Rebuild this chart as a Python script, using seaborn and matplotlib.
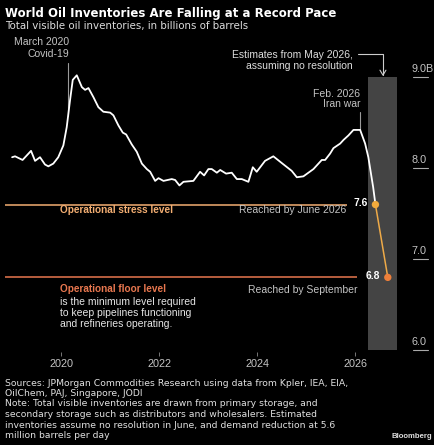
import pandas as pd
import numpy as np
import matplotlib.pyplot as plt
import matplotlib.dates as mdates
import seaborn as sns

# ── 1. Data ────────────────────────────────────────────────
hist_dates = [
    "2019-01-01", "2019-01-23", "2019-03-20", "2019-05-22", "2019-06-21",
    "2019-07-28", "2019-09-03", "2019-09-28", "2019-11-04", "2019-12-11",
    "2020-01-18", "2020-02-12", "2020-03-08", "2020-03-28", "2020-04-27",
    "2020-06-04", "2020-06-28", "2020-07-23", "2020-08-29", "2020-10-05",
    "2020-11-11", "2021-01-01", "2021-01-25", "2021-03-03", "2021-04-05",
    "2021-04-30", "2021-06-11", "2021-07-18", "2021-08-25", "2021-10-01",
    "2021-10-26", "2021-12-02", "2021-12-27", "2022-02-02", "2022-04-05",
    "2022-04-30", "2022-06-01", "2022-07-01", "2022-09-13", "2022-11-02",
    "2022-12-02", "2023-01-03", "2023-01-28", "2023-03-07", "2023-04-01",
    "2023-05-15", "2023-06-26", "2023-08-03", "2023-09-09", "2023-10-28",
    "2023-11-30", "2023-12-29", "2024-02-29", "2024-05-01", "2024-07-08",
    "2024-09-15", "2024-10-23", "2024-12-11", "2025-02-24", "2025-04-27",
    "2025-05-22", "2025-06-28", "2025-07-23", "2025-09-11", "2025-10-06",
    "2025-11-12", "2025-12-19", "2026-02-07", "2026-03-16", "2026-04-09",
    "2026-05-15", "2026-06-01",
]
hist_values = [
    8.12, 8.13, 8.09, 8.19, 8.08,
    8.12, 8.04, 8.02, 8.05, 8.12,
    8.25, 8.45, 8.75, 8.97, 9.02,
    8.89, 8.86, 8.88, 8.78, 8.67,
    8.62, 8.61, 8.58, 8.47, 8.39,
    8.37, 8.26, 8.18, 8.05, 7.99,
    7.96, 7.86, 7.89, 7.86, 7.88,
    7.87, 7.81, 7.85, 7.86, 7.96,
    7.92, 7.99, 7.99, 7.95, 7.98,
    7.94, 7.95, 7.88, 7.88, 7.85,
    8.01, 7.96, 8.08, 8.13, 8.05,
    7.97, 7.90, 7.91, 7.99, 8.09,
    8.09, 8.16, 8.22, 8.27, 8.31,
    8.36, 8.42, 8.42, 8.27, 8.12,
    7.79, 7.60,
]

est_dates = ["2026-06-01", "2026-09-01"]
est_values = [7.6, 6.8]
est_labels = ["7.6", "6.8"]
est_colors = ["#f2aa3c", "#ee7f3a"]

stress_level = 7.6
floor_level = 6.8

year_ticks = [2020, 2022, 2024, 2026]
y_ticks = [9.0, 8.0, 7.0, 6.0]
y_tick_labels = ["9.0B", "8.0", "7.0", "6.0"]

notes = [
    "Sources: JPMorgan Commodities Research using data from Kpler, IEA, EIA,",
    "OilChem, PAJ, Singapore, JODI",
    "Note: Total visible inventories are drawn from primary storage, and",
    "secondary storage such as distributors and wholesalers. Estimated",
    "inventories assume no resolution in June, and demand reduction at 5.6",
    "million barrels per day",
]

hist = pd.DataFrame({"date": pd.to_datetime(hist_dates), "value": hist_values})
est = pd.DataFrame({"date": pd.to_datetime(est_dates), "value": est_values,
                    "label": est_labels})

# ── 2. Style ──────────────────────────────────────────────
sns.set_theme(style="dark")
plt.rcParams["font.family"] = ["Liberation Sans", "DejaVu Sans"]
BG = "black"
GREY_TXT = "#c4c4c4"
STRESS = "#f3ae72"
FLOOR = "#e8774f"

W, H = 434, 445
fig = plt.figure(figsize=(W / 100, H / 100), dpi=100, facecolor=BG)
ax = fig.add_axes([5 / W, 1 - 352 / H, 395 / W, 314 / H])
ax.set_facecolor(BG)

t = lambda s: pd.Timestamp(s)
x_left, x_right = t("2018-11-09"), t("2026-12-01")
ax.set_xlim(x_left, x_right)
ax.set_ylim(5.98, 9.43)

# estimate band
ax.axvspan(t("2026-04-10"), t("2026-11-10"), ymin=(6.0 - 5.98) / 3.45,
           ymax=(9.0 - 5.98) / 3.45, color="#444444", lw=0, zorder=0)

# stress / floor reference lines
ax.hlines(stress_level, x_left, t("2025-11-01"), color=STRESS, lw=1.1, zorder=1)
ax.hlines(floor_level, x_left, t("2026-01-15"), color=FLOOR, lw=1.1, zorder=1)

# history + estimate
sns.lineplot(data=hist, x="date", y="value", ax=ax, color="white", lw=1.3,
             zorder=3)
sns.lineplot(data=est, x="date", y="value", ax=ax, color="#eeaa48", lw=1.1,
             zorder=3)
sns.scatterplot(data=est, x="date", y="value", hue="label", palette=est_colors,
                s=28, edgecolor="none", legend=False, ax=ax, zorder=4)

for _, r in est.iterrows():
    ax.annotate(r["label"], xy=(r["date"], r["value"]), xytext=(-5.5, 1),
                textcoords="offset points", ha="right", va="center",
                color="white", fontsize=7.4, fontweight="bold")

# ── 3. Annotations ────────────────────────────────────────
hist_num = mdates.date2num(hist["date"])


def curve_at(day):
    return np.interp(mdates.date2num(t(day)), hist_num, hist["value"])


lead = dict(color="#9a9a9a", lw=0.8)
ax.plot([t("2020-02-22")] * 2, [9.15, curve_at("2020-02-22")], **lead)
ax.text(t("2020-03-01"), 9.32, "March 2020\nCovid-19", ha="right",
        va="center", color=GREY_TXT, fontsize=7.5, linespacing=1.15)

ax.plot([t("2026-02-07")] * 2, [8.62, curve_at("2026-02-07")], **lead)
ax.text(t("2026-02-07"), 8.76, "Feb. 2026\nIran war", ha="right",
        va="center", color=GREY_TXT, fontsize=7.5, linespacing=1.1)

ax.text(t("2025-12-16"), 9.18, "Estimates from May 2026,\nassuming no resolution",
        ha="right", va="center", color="#dddddd", fontsize=7.5, linespacing=1.1)
ax.annotate("", xy=(t("2026-07-27"), 9.01), xytext=(t("2026-01-23"), 9.25),
            arrowprops=dict(arrowstyle="->,head_length=0.3,head_width=0.18",
                            connectionstyle="angle,angleA=0,angleB=90,rad=0",
                            color="#cccccc", lw=0.8, shrinkA=0, shrinkB=0))

ax.text(t("2019-12-24"), 7.54, "Operational stress level", ha="left",
        va="center", color=STRESS, fontsize=7.2, fontweight="bold")
ax.text(t("2025-10-28"), 7.54, "Reached by June 2026", ha="right",
        va="center", color=GREY_TXT, fontsize=7.5)

ax.text(t("2019-12-24"), 6.67, "Operational floor level", ha="left",
        va="center", color=FLOOR, fontsize=7.2, fontweight="bold")
ax.text(t("2019-12-24"), 6.41,
        "is the minimum level required\nto keep pipelines functioning\n"
        "and refineries operating.", ha="left", va="center",
        color="#e6e6e6", fontsize=7.5, linespacing=1.1)
ax.text(t("2026-01-15"), 6.66, "Reached by September", ha="right",
        va="center", color=GREY_TXT, fontsize=7.5)

# ── 4. Axes ───────────────────────────────────────────────
for s in ax.spines.values():
    s.set_visible(False)
ax.grid(False)
ax.set_xlabel("")
ax.set_ylabel("")
ax.set_xticks([t(f"{y}-01-01") for y in year_ticks])
ax.set_xticklabels([str(y) for y in year_ticks])
ax.tick_params(axis="x", length=3, width=0.6, color="#8a8a8a", pad=2,
               labelcolor=GREY_TXT, labelsize=7.8, bottom=True)
ax.set_yticks([])

ytf = ax.get_yaxis_transform()
for v, lab in zip(y_ticks, y_tick_labels):
    ax.plot([1.034, 1.07], [v, v], transform=ytf, color="#aaaaaa", lw=0.8,
            clip_on=False)
    ax.annotate(lab, xy=(1.03, v), xycoords=ytf, xytext=(0, 2.5),
                textcoords="offset points", ha="left", va="bottom",
                color=GREY_TXT, fontsize=7.8, annotation_clip=False)

# ── 5. Title and notes ────────────────────────────────────
fig.text(5 / W, 1 - 17 / H, "World Oil Inventories Are Falling at a Record Pace",
         ha="left", va="baseline", color="white", fontsize=8.5,
         fontweight="bold", family="DejaVu Sans")
fig.text(5 / W, 1 - 28.5 / H, "Total visible oil inventories, in billions of barrels",
         ha="left", va="baseline", color="#dddddd", fontsize=7.4,
         family="DejaVu Sans")
for i, line in enumerate(notes):
    fig.text(5 / W, 1 - (383 + 10.5 * i) / H, line, ha="left", va="center",
             color="#e0e0e0", fontsize=6.7, family="DejaVu Sans")
fig.text(432 / W, 1 - 437 / H, "Bloomberg", ha="right", va="center",
         color="#dddddd", fontsize=5.6, fontweight="bold")

fig.savefig("out.png", dpi=100, facecolor=BG)
